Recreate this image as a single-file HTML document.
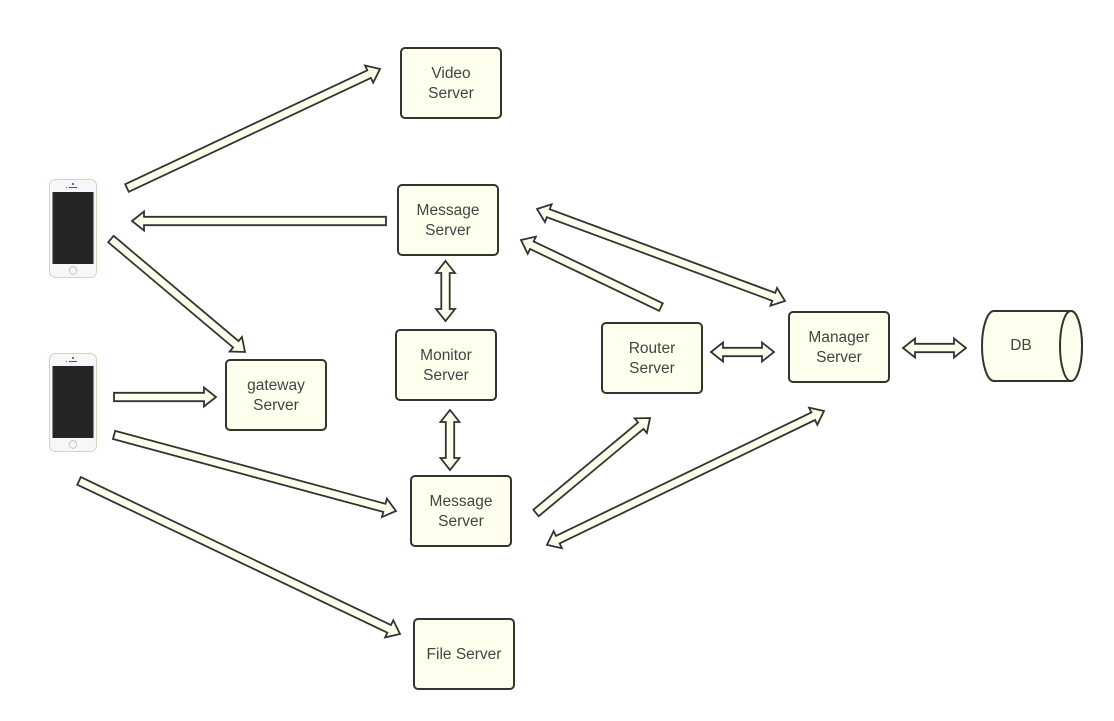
<!DOCTYPE html>
<html>
<head>
<meta charset="utf-8">
<style>
html,body{margin:0;padding:0;background:#fff;width:1114px;height:721px;overflow:hidden}
svg{display:block}
text{font-family:"Liberation Sans",sans-serif;font-size:15.5px;fill:#444;text-anchor:middle}
.b{fill:#ffffee;stroke:#333330;stroke-width:2}
.a{fill:#ffffee;stroke:#333330;stroke-width:1.8;stroke-linejoin:miter}
</style>
</head>
<body>
<svg width="1114" height="721" viewBox="0 0 1114 721" xmlns="http://www.w3.org/2000/svg">
<defs>
<g id="phone">
<rect x="49.5" y="179.5" width="47" height="98" rx="6" fill="#f6f7f9" stroke="#d9d1bd" stroke-width="1"/>
<rect x="52.5" y="192" width="41" height="72" fill="#232527"/>
<circle cx="73" cy="270.5" r="3.8" fill="#f6f7f9" stroke="#bdb9ad" stroke-width="0.8"/>
<rect x="69" y="187" width="8" height="1" fill="#555"/>
<circle cx="73" cy="184" r="1" fill="#444"/>
<circle cx="66.5" cy="187.5" r="0.6" fill="#666"/>
</g>
</defs>

<!-- single arrows -->
<polygon class="a" transform="translate(380,69) rotate(-25.2)" points="-279.6,-4.2 -12,-4.2 -12,-9.5 0,0 -12,9.5 -12,4.2 -279.6,4.2"/>
<polygon class="a" transform="translate(132,221) rotate(180)" points="-254,-4.2 -12,-4.2 -12,-9.5 0,0 -12,9.5 -12,4.2 -254,4.2"/>
<polygon class="a" transform="translate(245,352) rotate(40.1)" points="-175.3,-4.2 -12,-4.2 -12,-9.5 0,0 -12,9.5 -12,4.2 -175.3,4.2"/>
<polygon class="a" transform="translate(216,397) rotate(0)" points="-102,-4.2 -12,-4.2 -12,-9.5 0,0 -12,9.5 -12,4.2 -102,4.2"/>
<polygon class="a" transform="translate(396,511) rotate(15.1)" points="-292,-4.2 -12,-4.2 -12,-9.5 0,0 -12,9.5 -12,4.2 -292,4.2"/>
<polygon class="a" transform="translate(400,634) rotate(25.5)" points="-355.6,-4.2 -12,-4.2 -12,-9.5 0,0 -12,9.5 -12,4.2 -355.6,4.2"/>
<polygon class="a" transform="translate(650,418) rotate(-39.8)" points="-148.4,-4.2 -12,-4.2 -12,-9.5 0,0 -12,9.5 -12,4.2 -148.4,4.2"/>
<polygon class="a" transform="translate(521,240) rotate(205.6)" points="-155.2,-4.2 -12,-4.2 -12,-9.5 0,0 -12,9.5 -12,4.2 -155.2,4.2"/>

<!-- double arrows -->
<polygon class="a" transform="translate(785,301) rotate(20.35)" points="-264.5,0 -252.5,-9.5 -252.5,-4.2 -12,-4.2 -12,-9.5 0,0 -12,9.5 -12,4.2 -252.5,4.2 -252.5,9.5"/>
<polygon class="a" transform="translate(824,411) rotate(-25.8)" points="-307.7,0 -295.7,-9.5 -295.7,-4.2 -12,-4.2 -12,-9.5 0,0 -12,9.5 -12,4.2 -295.7,4.2 -295.7,9.5"/>
<polygon class="a" transform="translate(445.5,321) rotate(90)" points="-60,0 -48,-9.5 -48,-4.2 -12,-4.2 -12,-9.5 0,0 -12,9.5 -12,4.2 -48,4.2 -48,9.5"/>
<polygon class="a" transform="translate(450,470) rotate(90)" points="-60,0 -48,-9.5 -48,-4.2 -12,-4.2 -12,-9.5 0,0 -12,9.5 -12,4.2 -48,4.2 -48,9.5"/>
<polygon class="a" transform="translate(774,352) rotate(0)" points="-63,0 -51,-9.5 -51,-4.2 -12,-4.2 -12,-9.5 0,0 -12,9.5 -12,4.2 -51,4.2 -51,9.5"/>
<polygon class="a" transform="translate(966,348) rotate(0)" points="-63,0 -51,-9.5 -51,-4.2 -12,-4.2 -12,-9.5 0,0 -12,9.5 -12,4.2 -51,4.2 -51,9.5"/>

<!-- boxes -->
<rect class="b" x="401" y="48" width="100" height="70" rx="4"/>
<text x="451" y="78">Video</text><text x="451" y="98">Server</text>

<rect class="b" x="398" y="185" width="100" height="70" rx="4"/>
<text x="448" y="215">Message</text><text x="448" y="235">Server</text>

<rect class="b" x="396" y="330" width="100" height="70" rx="4"/>
<text x="446" y="360">Monitor</text><text x="446" y="380">Server</text>

<rect class="b" x="226" y="360" width="100" height="70" rx="4"/>
<text x="276" y="390">gateway</text><text x="276" y="410">Server</text>

<rect class="b" x="411" y="476" width="100" height="70" rx="4"/>
<text x="461" y="506">Message</text><text x="461" y="526">Server</text>

<rect class="b" x="414" y="619" width="100" height="70" rx="4"/>
<text x="464" y="659">File Server</text>

<rect class="b" x="602" y="323" width="100" height="70" rx="4"/>
<text x="652" y="353">Router</text><text x="652" y="373">Server</text>

<rect class="b" x="789" y="312" width="100" height="70" rx="4"/>
<text x="839" y="342">Manager</text><text x="839" y="362">Server</text>

<!-- DB -->
<path class="b" d="M994,311 L1071,311 A11,35 0 0 1 1071,381 L994,381 A12,35 0 0 1 994,311 Z"/>
<ellipse class="b" cx="1071" cy="346" rx="11" ry="35"/>
<text x="1021" y="350">DB</text>

<!-- phones -->
<use href="#phone"/>
<use href="#phone" transform="translate(0,174)"/>
</svg>
</body>
</html>
